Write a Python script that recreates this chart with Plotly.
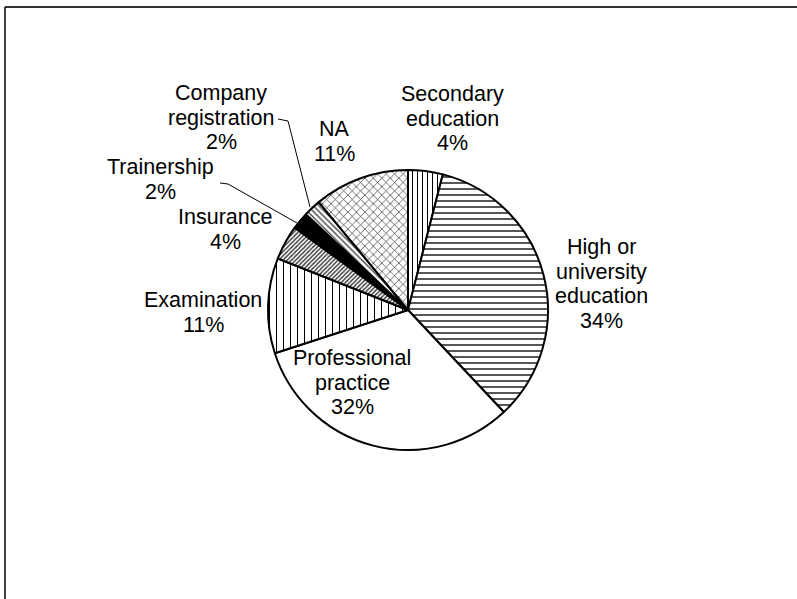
import plotly.graph_objects as go

# ---- data ----
categories = ["Secondary education", "High or university education", "Professional practice",
              "Examination", "Insurance", "Trainership", "Company registration", "NA"]
shares = [4, 34, 32, 11, 4, 2, 2, 11]
label_lines = [
    ["Secondary", "education", "4%"],
    ["High or", "university", "education", "34%"],
    ["Professional", "practice", "32%"],
    ["Examination", "11%"],
    ["Insurance", "4%"],
    ["Trainership", "2%"],
    ["Company", "registration", "2%"],
    ["NA", "11%"],
]

# ---- styles / layout (pixel positions of labels) ----
W, H = 797, 599
label_pos = [  # (center x px, first-line y px)
    (452, 94), (601, 247), (352, 358), (203, 300),
    (225, 217), (160, 167), (221, 93), (334, 129),
]
line_gap = 24.7
bg_colors = ["white", "white", "white", "white", "white", "black", "white", "white"]
shapes_ = ["|", "-", "", "|", "/", "", "\\", "x"]
sizes_ = [5, 6, 8, 7, 3, 8, 4, 6]
solid_ = [0.2, 0.3, 0.1, 0.15, 0.45, 0.1, 0.35, 0.22]
fg_ = ["black", "#444", "black", "black", "#333", "black", "#444", "#333"]

def px(x):
    return x / W

def py(y):
    return 1 - y / H

cx, cy, r = 408, 310, 140

fig = go.Figure(go.Pie(
    labels=categories, values=shares, sort=False, direction="clockwise", rotation=0,
    textinfo="none", hoverinfo="label+percent",
    domain=dict(x=[px(cx - r), px(cx + r)], y=[py(cy + r), py(cy - r)]),
    marker=dict(colors=bg_colors, line=dict(color="black", width=2),
                pattern=dict(shape=shapes_, size=sizes_, solidity=solid_, fgcolor=fg_)),
    showlegend=False,
))

annotations = []
for (x0, y0), lines in zip(label_pos, label_lines):
    for i, t in enumerate(lines):
        annotations.append(dict(x=px(x0), y=py(y0 + i * line_gap), xref="paper", yref="paper",
                                text=t, showarrow=False, xanchor="center", yanchor="middle",
                                font=dict(family="Liberation Sans, Arial", size=21.5, color="black")))

def path(points):
    return "M " + " L ".join(f"{px(x)},{py(y)}" for x, y in points)

shapes = [
    # frame
    dict(type="line", xref="paper", yref="paper", x0=px(5), x1=px(W + 5), y0=py(7), y1=py(7),
         line=dict(color="#333", width=2)),
    dict(type="line", xref="paper", yref="paper", x0=px(5), x1=px(5), y0=py(7), y1=py(H + 5),
         line=dict(color="black", width=1.5)),
    # leader lines
    dict(type="path", xref="paper", yref="paper", path=path([(278, 119), (288, 121), (310, 207)]),
         line=dict(color="black", width=1)),
    dict(type="path", xref="paper", yref="paper", path=path([(220, 183), (228, 184), (297, 223)]),
         line=dict(color="black", width=1)),
]

fig.update_layout(width=W, height=H, margin=dict(l=0, r=0, t=0, b=0),
                  paper_bgcolor="white", plot_bgcolor="white",
                  annotations=annotations, shapes=shapes)
fig.write_html("out.html", config={"displayModeBar": False},
               post_script="document.body.style.margin='0';document.body.style.overflow='hidden';")
